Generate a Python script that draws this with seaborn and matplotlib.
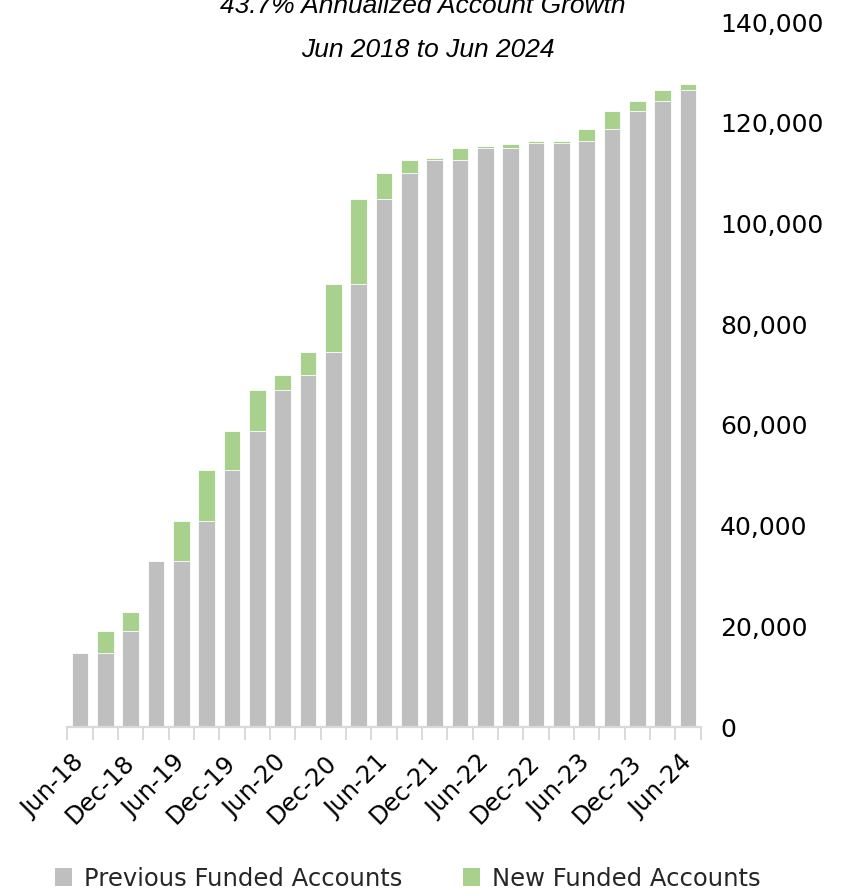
import numpy as np
import pandas as pd
import matplotlib
matplotlib.use("Agg")
import matplotlib.pyplot as plt
from matplotlib import font_manager as fm
from matplotlib.patches import Patch
from matplotlib.ticker import FixedLocator, FuncFormatter
import seaborn as sns

# Quarterly funded account counts
quarters = [
    "Jun-18", "Sep-18", "Dec-18", "Mar-19", "Jun-19", "Sep-19", "Dec-19",
    "Mar-20", "Jun-20", "Sep-20", "Dec-20", "Mar-21", "Jun-21", "Sep-21",
    "Dec-21", "Mar-22", "Jun-22", "Sep-22", "Dec-22", "Mar-23", "Jun-23",
    "Sep-23", "Dec-23", "Mar-24", "Jun-24",
]
previous_funded = [
    14700, 14700, 19100, 33000, 33000, 40900, 51000, 58800, 67000, 69900,
    74400, 88000, 104800, 110100, 112600, 112600, 115000, 115000, 115900,
    115900, 116300, 118700, 122300, 124400, 126500,
]
new_funded = [
    0, 4400, 3700, 0, 7900, 10100, 7800, 8200, 2900, 4500,
    13600, 16800, 5200, 2500, 300, 2400, 400, 800, 400,
    400, 2400, 3600, 2100, 2100, 1200,
]
y_ticks = [0, 20000, 40000, 60000, 80000, 100000, 120000, 140000]
title_lines = ["43.7% Annualized Account Growth", "Jun 2018 to Jun 2024"]
series_names = ["Previous Funded Accounts", "New Funded Accounts"]

GRAY = "#BFBFBF"
GREEN = "#A9D18E"
AXIS_GRAY = "#D9D9D9"


def has_font(name):
    try:
        fm.findfont(fm.FontProperties(family=name), fallback_to_default=False)
        return True
    except ValueError:
        return False


sns.set_theme(style="white")
plt.rcParams["font.family"] = ["DejaVu Sans"]
if has_font("Liberation Sans Narrow"):
    title_family, title_size = "Liberation Sans Narrow", 22
else:
    title_family, title_size = "Liberation Sans", 19

df = pd.DataFrame({
    "quarter": quarters,
    "previous": previous_funded,
    "new": new_funded,
})
df["total"] = df["previous"] + df["new"]

W, H = 850, 896
fig = plt.figure(figsize=(W / 100, H / 100), dpi=100)
ax = fig.add_axes([67.3 / W, 1 - 727 / H, (700.7 - 67.3) / W, (727 - 22) / H])

bar_kw = dict(width=0.66, saturation=1, errorbar=None, edgecolor="white",
              linewidth=0.6, ax=ax)
# stacked bars: full total in green, previous accounts overlaid in gray
sns.barplot(data=df, x="quarter", y="total", color=GREEN, **bar_kw)
sns.barplot(data=df, x="quarter", y="previous", color=GRAY, **bar_kw)

n = len(quarters)
ax.set_xlim(-0.5, n - 0.5)
ax.set_ylim(0, 140000)

# x axis: light baseline with ticks between categories, labels every half year
for side in ["top", "left", "right"]:
    ax.spines[side].set_visible(False)
ax.spines["bottom"].set_color(AXIS_GRAY)
ax.spines["bottom"].set_linewidth(1.6)
ax.xaxis.set_major_locator(FixedLocator(list(range(0, n, 2))))
ax.set_xticklabels(quarters[::2])
ax.xaxis.set_minor_locator(FixedLocator(list(np.arange(-0.5, n, 1.0))))
ax.tick_params(axis="x", which="minor", bottom=True, length=9, width=1.4,
               color=AXIS_GRAY, direction="out")
ax.tick_params(axis="x", which="major", bottom=True, length=0, pad=23,
               labelsize=17.5, labelcolor="black")
for lab in ax.get_xticklabels():
    lab.set_rotation(45)
    lab.set_ha("right")
    lab.set_va("center")
    lab.set_rotation_mode("anchor")

# y axis labels on the right
ax.yaxis.tick_right()
ax.set_yticks(y_ticks)
ax.yaxis.set_major_formatter(FuncFormatter(lambda v, p: f"{int(v):,}"))
ax.tick_params(axis="y", which="both", left=False, right=False, length=0,
               pad=14, labelsize=18, labelcolor="black")
for lab in ax.get_yticklabels():
    lab.set_ha("left")
ax.set_xlabel("")
ax.set_ylabel("")
ax.grid(False)

# two-line italic title
fig.text(423 / W, 1 - 13 / H, title_lines[0], ha="center", va="baseline",
         style="italic", family=title_family, fontsize=title_size, color="black")
fig.text(428 / W, 1 - 57 / H, title_lines[1], ha="center", va="baseline",
         style="italic", family=title_family, fontsize=title_size, color="black")

handles = [Patch(facecolor=GRAY, edgecolor="none", label=series_names[0]),
           Patch(facecolor=GREEN, edgecolor="none", label=series_names[1])]
fig.legend(handles=handles, loc="center", bbox_to_anchor=(407.5 / W, 1 - 878.5 / H),
           ncol=2, frameon=False, fontsize=17.5, handlelength=0.72,
           handleheight=0.72, handletextpad=0.47, columnspacing=2.5,
           borderpad=0, borderaxespad=0)

fig.savefig("out.png", dpi=100)
